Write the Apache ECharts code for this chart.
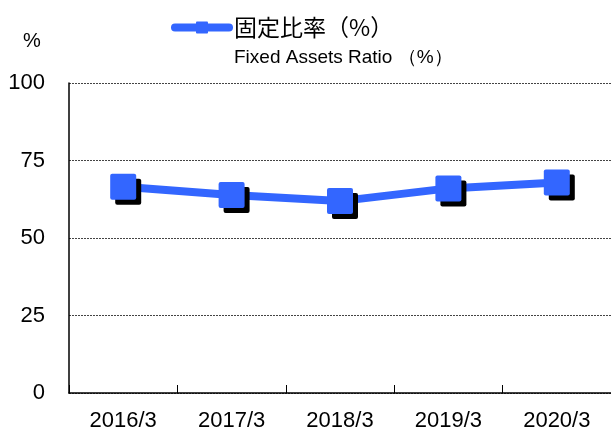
<!DOCTYPE html>
<html>
<head>
<meta charset="utf-8">
<script src="https://cdn.jsdelivr.net/npm/echarts@6/dist/echarts.min.js"></script>
<style>
html,body{margin:0;padding:0;background:#fff;}
#chart{width:611px;height:435px;}
</style>
</head>
<body>
<div id="chart"></div>
<script>
var categories = ['2016/3', '2017/3', '2018/3', '2019/3', '2020/3'];
var fixedAssetsRatio = [66.5, 63.9, 61.9, 66.0, 67.9];
var seriesName = '固定比率（%）';
var seriesNameEn = 'Fixed Assets Ratio （%）';
var yUnit = '%';

var blue = '#3366ff';
var font = 'Liberation Sans, Arial, sans-serif';
var squareSym = 'path://M2,0 H24 Q26,0 26,2 V24 Q26,26 24,26 H2 Q0,26 0,24 V2 Q0,0 2,0 Z';

var chart = echarts.init(document.getElementById('chart'), null, {renderer: 'canvas'});
chart.setOption({
  animation: false,
  backgroundColor: '#ffffff',
  title: [
    {
      text: seriesNameEn,
      left: 229, top: 43,
      textStyle: {fontSize: 19, fontWeight: 'normal', color: '#000', fontFamily: font}
    },
    {
      text: yUnit,
      left: 18, top: 26,
      textStyle: {fontSize: 20, fontWeight: 'normal', color: '#000', fontFamily: font}
    }
  ],
  legend: {
    data: [seriesName],
    left: 166, top: 11,
    itemWidth: 54, itemHeight: 15,
    itemGap: 10,
    lineStyle: {width: 8, cap: 'round'},
    itemStyle: {shadowColor: 'transparent', shadowOffsetX: 0, shadowOffsetY: 0},
    textStyle: {fontSize: 23, color: '#000', fontFamily: 'Noto Sans CJK JP, sans-serif'}
  },
  grid: {left: 69, right: 0, top: 83, bottom: 42},
  xAxis: {
    type: 'category',
    data: categories,
    boundaryGap: true,
    axisLine: {show: true, lineStyle: {color: '#000', width: 1.5}},
    axisTick: {show: true, inside: true, length: 8, lineStyle: {color: '#000'}},
    axisLabel: {fontSize: 22, color: '#000', margin: 17, fontFamily: font},
    splitLine: {show: false}
  },
  yAxis: {
    type: 'value',
    min: 0, max: 100, interval: 25,
    axisLine: {show: true, lineStyle: {color: '#000', width: 1.5}},
    axisTick: {show: false},
    axisLabel: {fontSize: 22, color: '#000', margin: 24, fontFamily: font},
    splitLine: {show: true, lineStyle: {color: '#444', width: 1, type: [2, 1]}}
  },
  series: [{
    name: seriesName,
    type: 'line',
    data: fixedAssetsRatio,
    symbol: squareSym,
    symbolSize: 26,
    lineStyle: {color: blue, width: 8},
    itemStyle: {color: blue, shadowColor: '#000', shadowBlur: 0, shadowOffsetX: 5, shadowOffsetY: 5},
    emphasis: {disabled: true}
  }]
});
</script>
</body>
</html>
